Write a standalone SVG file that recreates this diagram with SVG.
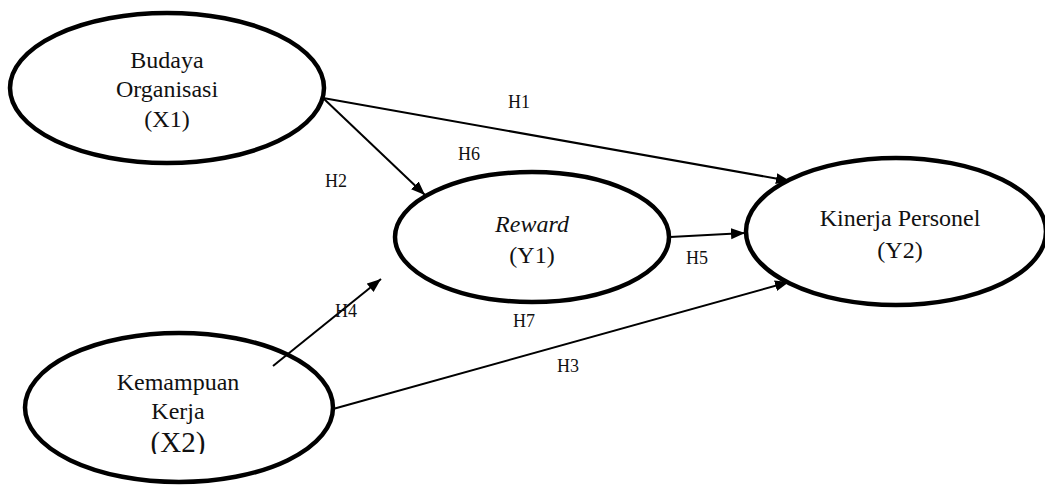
<svg xmlns="http://www.w3.org/2000/svg" width="1045" height="485" viewBox="0 0 1045 485">
  <style>
    .node ellipse { fill: #ffffff; stroke: #000000; stroke-width: 4.5; }
    .lbl { font-family: "Liberation Serif", "Times New Roman", serif; font-size: 24px; fill: #111111; text-anchor: middle; }
    .hyp { font-family: "Liberation Serif", "Times New Roman", serif; font-size: 18px; fill: #111111; text-anchor: middle; }
    .edge { stroke: #000000; stroke-width: 2; fill: none; marker-end: url(#arrow); }
  </style>
  <defs>
    <marker id="arrow" markerUnits="userSpaceOnUse" markerWidth="16" markerHeight="12" refX="14" refY="5.5" orient="auto">
      <path d="M0,0 L14,5.5 L0,11 z" fill="#000000"/>
    </marker>
    <clipPath id="clipX2">
      <rect x="0" y="0" width="1045" height="454"/>
    </clipPath>
  </defs>
  <rect width="1045" height="485" fill="#ffffff"/>

  <!-- Budaya Organisasi (X1) -->
  <g id="node-x1" class="node">
    <ellipse cx="167" cy="88" rx="157" ry="75"/>
    <text class="lbl" x="167" y="68">Budaya</text>
    <text class="lbl" x="167" y="97">Organisasi</text>
    <text class="lbl" x="167" y="127">(X1)</text>
  </g>

  <!-- Reward (Y1) -->
  <g id="node-y1" class="node">
    <ellipse cx="532" cy="237" rx="137" ry="65"/>
    <text class="lbl" x="532" y="232" font-style="italic">Reward</text>
    <text class="lbl" x="532" y="263">(Y1)</text>
  </g>

  <!-- Kinerja Personel (Y2) -->
  <g id="node-y2" class="node">
    <ellipse cx="896" cy="231.5" rx="150" ry="73.5"/>
    <text class="lbl" x="900" y="226">Kinerja Personel</text>
    <text class="lbl" x="900" y="258">(Y2)</text>
  </g>

  <!-- Kemampuan Kerja (X2) -->
  <g id="node-x2" class="node">
    <ellipse cx="179" cy="407.5" rx="154" ry="74.5"/>
    <text class="lbl" x="178" y="390">Kemampuan</text>
    <text class="lbl" x="178" y="419">Kerja</text>
    <text class="lbl" x="178" y="452" style="font-size:29px" clip-path="url(#clipX2)">(X2)</text>
  </g>

  <!-- connectors, drawn over the nodes so H4 shows where it crosses X2 -->
  <g id="connectors">
    <line class="edge" x1="323" y1="98" x2="790" y2="181"/>
    <line class="edge" x1="323" y1="98" x2="425" y2="195"/>
    <line class="edge" x1="670" y1="237" x2="745" y2="233"/>
    <line class="edge" x1="333" y1="409" x2="789" y2="282"/>
    <line class="edge" x1="273" y1="366" x2="381" y2="279"/>
    <text class="hyp" x="519" y="108">H1</text>
    <text class="hyp" x="336" y="187">H2</text>
    <text class="hyp" x="568" y="372">H3</text>
    <text class="hyp" x="346" y="317">H4</text>
    <text class="hyp" x="697" y="264">H5</text>
    <text class="hyp" x="469" y="160">H6</text>
    <text class="hyp" x="524" y="327">H7</text>
  </g>
</svg>
